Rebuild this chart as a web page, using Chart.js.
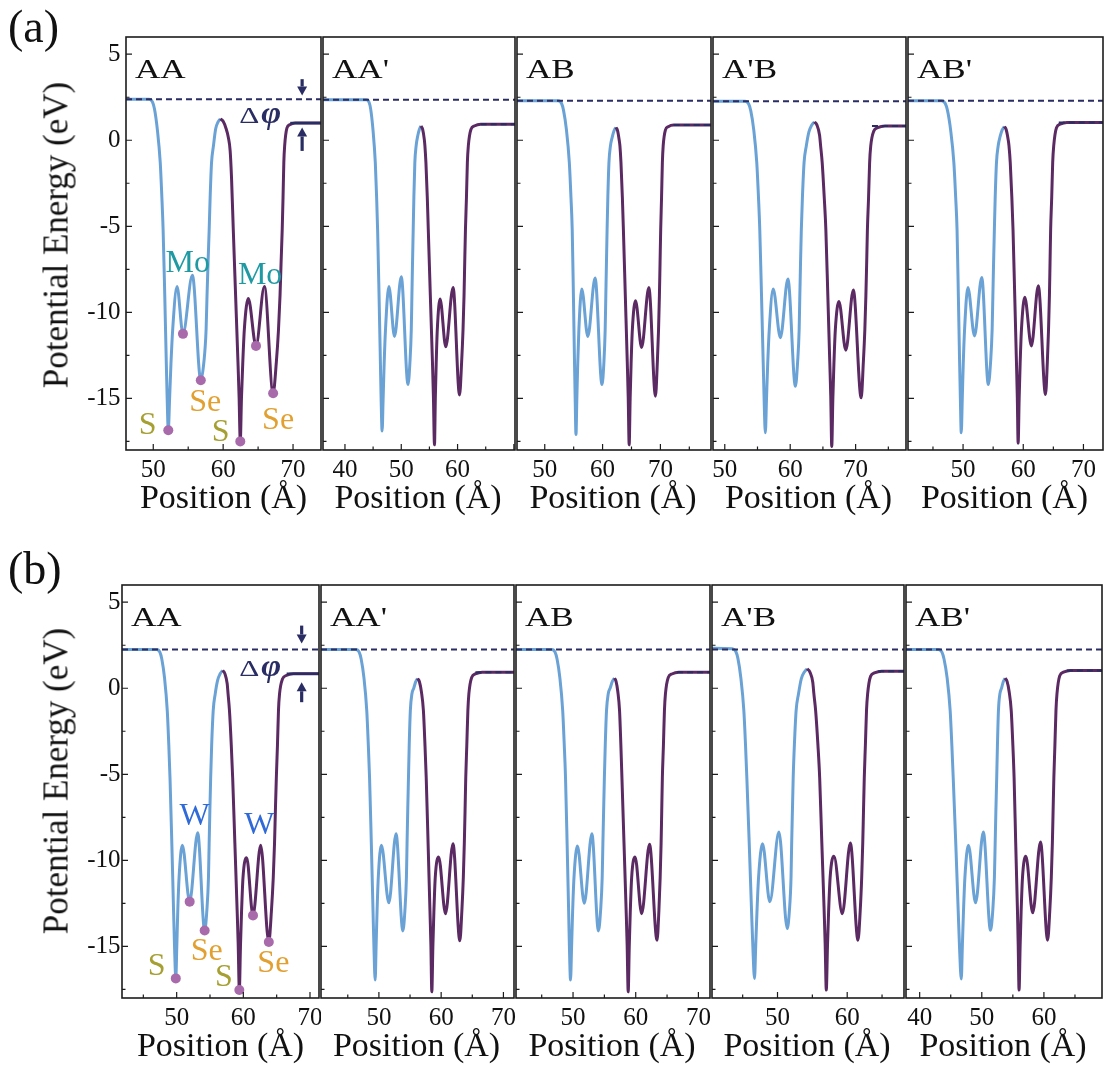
<!DOCTYPE html>
<html>
<head>
<meta charset="utf-8">
<title>Potential energy profiles</title>
<script src="https://cdn.jsdelivr.net/npm/chart.js@4.4.1/dist/chart.umd.min.js"></script>
<style>
  body { margin: 0; background: #fff; }
  #fig { position: relative; width: 1105px; height: 1068px; overflow: hidden; background: #fff;
         font-family: 'Liberation Serif', 'Times New Roman', serif; color: #111; }
  #fig canvas { position: absolute; }
  .txt { position: absolute; white-space: nowrap; line-height: 1; }
</style>
</head>
<body>
<div id="fig"></div>
<script>
// ---- data ----
var panelNames = ['AA', "AA'", 'AB', "A'B", "AB'"];
var xTickValues = [40, 50, 60, 70];
var yTickValues = [5, 0, -5, -10, -15];
var yMin = -18, yMax = 6;

// (a) MoS2 / MoSe2
var aRanges = [[46.1, 74.0], [36.1, 70.2], [45.2, 78.75], [48.2, 77.7], [40.85, 73.25]];
var aVacuumLeft = [2.38, 2.36, 2.3, 2.27, 2.3];
var aVacuumRight = [[69.6, 1.0], [64.1, 0.93], [72.3, 0.89], [72.5, 0.83], [65.9, 1.03]];

var aBlue_AA = [[46.1,2.38],[49.4,2.38],[49.88,2.23],[50.17,1.83],[50.59,0.6],[51.0,-1.3],[51.23,-3.3],[51.41,-5.2],[51.65,-9.1],[51.87,-13],[51.99,-15],[52.15,-16.85],[52.34,-15],[52.53,-13],[52.78,-11],[53.4,-8.5],[54.25,-11.25],[55.6,-7.85],[56.8,-13.95],[57.24,-12.9],[57.56,-11],[57.69,-9.05],[57.84,-7.1],[58.0,-5.2],[58.14,-3.3],[58.34,-1.3],[58.61,-0.33],[58.93,0.67],[59.26,1.05],[59.6,1.25]];
var aPurple_AA = [[59.6,1.25],[60.0,1.1],[60.4,0.7],[60.75,0.15],[61.0,-0.6],[61.2,-2.2],[61.45,-5.2],[61.78,-9],[62.12,-12.9],[62.28,-14.9],[62.45,-17.5],[62.62,-15],[62.8,-13],[63.03,-11],[63.6,-9.2],[64.7,-11.95],[65.9,-8.5],[67.15,-14.7],[67.61,-12.9],[67.92,-11],[68.14,-9],[68.29,-7.1],[68.45,-5.2],[68.57,-3.3],[68.68,-1.3],[68.8,-0.33],[69.12,0.7],[69.52,0.9],[70.3,1.0],[74.0,1.0]];

var aBlue_AAp = [[36.1,2.36],[43.8,2.36],[44.28,2.21],[44.57,1.81],[44.98,0.6],[45.39,-1.3],[45.62,-3.3],[45.8,-5.2],[46.06,-9.1],[46.3,-13],[46.42,-15],[46.6,-16.9],[46.78,-15],[46.96,-13],[47.2,-11],[47.8,-8.5],[48.8,-11.4],[50.0,-7.93],[51.2,-14.2],[51.54,-12.9],[51.78,-11],[51.89,-9.05],[52.0,-7.1],[52.12,-5.2],[52.24,-3.3],[52.41,-1.3],[52.64,-0.33],[52.92,0.25],[53.21,0.63],[53.5,0.83]];
var aPurple_AAp = [[53.5,0.83],[53.79,0.64],[54.09,0.05],[54.2,-0.33],[54.38,-1.3],[54.62,-3.3],[54.8,-5.2],[55.16,-9],[55.54,-12.9],[55.71,-14.9],[55.9,-17.7],[56.05,-15],[56.2,-13],[56.4,-11],[56.9,-9.23],[57.9,-12.0],[59.2,-8.55],[60.35,-14.8],[60.72,-12.9],[60.97,-11],[61.15,-9],[61.27,-7.1],[61.4,-5.2],[61.58,-3.3],[61.74,-1.3],[61.91,-0.33],[62.37,0.63],[62.97,0.83],[64.1,0.93],[70.2,0.93]];

var aBlue_AB = [[45.2,2.3],[52.3,2.3],[52.89,2.15],[53.24,1.75],[53.75,0.6],[54.25,-1.3],[54.53,-3.3],[54.75,-5.2],[54.96,-9.1],[55.15,-13],[55.26,-15],[55.4,-17.1],[55.55,-15],[55.7,-13],[55.9,-11],[56.4,-8.65],[57.45,-11.4],[58.7,-8.0],[59.9,-14.2],[60.23,-12.9],[60.45,-11],[60.56,-9.05],[60.67,-7.1],[60.78,-5.2],[60.91,-3.3],[61.1,-1.3],[61.36,-0.33],[61.66,0.17],[61.98,0.55],[62.3,0.75]];
var aPurple_AB = [[62.3,0.75],[62.59,0.56],[62.89,-0.03],[63.0,-0.33],[63.18,-1.3],[63.42,-3.3],[63.6,-5.2],[63.93,-9],[64.27,-12.9],[64.43,-14.9],[64.6,-17.7],[64.77,-15],[64.93,-13],[65.15,-11],[65.7,-9.33],[66.75,-12.05],[68.0,-8.55],[69.15,-14.87],[69.47,-12.9],[69.68,-11],[69.83,-9],[69.94,-7.1],[70.05,-5.2],[70.2,-3.3],[70.34,-1.3],[70.48,-0.33],[70.86,0.59],[71.35,0.79],[72.3,0.89],[78.75,0.89]];

var aBlue_ApB = [[48.2,2.27],[53.1,2.27],[53.64,2.12],[53.97,1.72],[54.43,0.6],[54.89,-1.3],[55.15,-3.3],[55.35,-5.2],[55.62,-9.1],[55.88,-13],[56.01,-15],[56.2,-17.0],[56.38,-15],[56.56,-13],[56.8,-11],[57.4,-8.65],[58.5,-11.47],[59.65,-8.07],[60.8,-14.3],[61.13,-12.9],[61.37,-11],[61.47,-9.05],[61.58,-7.1],[61.7,-5.2],[61.87,-3.3],[62.12,-1.3],[62.46,-0.33],[62.86,0.49],[63.28,0.87],[63.7,1.07]];
var aPurple_ApB = [[63.7,1.07],[64.09,0.88],[64.49,0.29],[64.65,-0.33],[64.89,-1.3],[65.2,-3.3],[65.45,-5.2],[65.75,-9],[66.05,-12.9],[66.2,-14.9],[66.35,-17.8],[66.52,-15],[66.68,-13],[66.9,-11],[67.45,-9.37],[68.5,-12.2],[69.65,-8.7],[70.85,-14.97],[71.18,-12.9],[71.41,-11],[71.57,-9],[71.69,-7.1],[71.8,-5.2],[71.98,-3.3],[72.14,-1.3],[72.31,-0.33],[72.77,0.53],[73.37,0.73],[74.5,0.83],[77.7,0.83]];

var aBlue_ABp = [[40.85,2.3],[46.4,2.3],[47.02,2.15],[47.4,1.75],[47.93,0.6],[48.47,-1.3],[48.77,-3.3],[49.0,-5.2],[49.22,-9.1],[49.43,-13],[49.55,-15],[49.7,-17.0],[49.87,-15],[50.03,-13],[50.25,-11],[50.8,-8.55],[51.9,-11.37],[53.1,-7.97],[54.2,-14.2],[54.57,-12.9],[54.83,-11],[54.95,-9.05],[55.07,-7.1],[55.2,-5.2],[55.34,-3.3],[55.55,-1.3],[55.83,-0.33],[56.16,0.22],[56.5,0.6],[56.85,0.8]];
var aPurple_ABp = [[56.85,0.8],[57.17,0.61],[57.5,0.02],[57.63,-0.33],[57.84,-1.3],[58.1,-3.3],[58.3,-5.2],[58.58,-9],[58.87,-12.9],[59.01,-14.9],[59.15,-17.6],[59.32,-15],[59.48,-13],[59.7,-11],[60.25,-9.13],[61.35,-11.95],[62.5,-8.45],[63.7,-14.77],[64.0,-12.9],[64.2,-11],[64.35,-9],[64.45,-7.1],[64.55,-5.2],[64.73,-3.3],[64.89,-1.3],[65.06,-0.33],[65.52,0.73],[66.12,0.93],[67.25,1.03],[73.25,1.03]];

var aAtomLabels = [['Mo',54.93,-7.15],['Mo',65.29,-7.85],['S',49.21,-16.57],['Se',57.43,-15.23],['S',59.64,-16.98],['Se',67.86,-16.28]];
var aAtomDots = [[52.15,-16.85],[54.25,-11.25],[56.8,-13.95],[62.45,-17.5],[64.7,-11.95],[67.15,-14.7]];
var aDeltaPhi = { arrowX: 71.3, down: [3.55, 2.6], up: [-0.62, 0.74], textX: 62.3, textY: 1.02 };

// (b) WS2 / WSe2
var bRanges = [[41.8, 71.35], [40.7, 71.7], [40.9, 71.85], [40.6, 68.15], [37.8, 69.35]];
var bVacuumLeft = [2.25, 2.25, 2.25, 2.25, 2.25];
var bVacuumRight = [[66.5, 0.84], [65.5, 0.93], [66.6, 0.93], [64.45, 0.99], [63.7, 1.03]];

var bBlue_AA = [[41.8,2.25],[47.0,2.25],[47.48,2.1],[47.77,1.7],[48.18,0.6],[48.59,-1.3],[48.82,-3.3],[49.0,-5.2],[49.28,-9.1],[49.54,-13],[49.68,-15],[49.87,-16.86],[50.02,-15],[50.16,-13],[50.36,-11],[50.85,-9.12],[51.95,-12.4],[53.15,-8.4],[54.2,-14.08],[54.53,-12.9],[54.77,-11],[54.87,-9.05],[54.98,-7.1],[55.1,-5.2],[55.25,-3.3],[55.48,-1.3],[55.78,-0.33],[56.14,0.46],[56.52,0.84],[56.9,1.04]];
var bPurple_AA = [[56.9,1.04],[57.23,0.85],[57.58,0.26],[57.71,-0.33],[57.92,-1.3],[58.19,-3.3],[58.4,-5.2],[58.73,-9],[59.07,-12.9],[59.23,-14.9],[59.4,-17.54],[59.57,-15],[59.73,-13],[59.95,-11],[60.5,-9.85],[61.45,-13.2],[62.6,-9.12],[63.82,-14.75],[64.22,-12.9],[64.49,-11],[64.68,-9],[64.81,-7.1],[64.95,-5.2],[65.12,-3.3],[65.27,-1.3],[65.43,-0.33],[65.87,0.54],[66.43,0.74],[67.5,0.84],[71.35,0.84]];

var bBlue_AAp = [[40.7,2.25],[46.3,2.25],[46.83,2.1],[47.15,1.7],[47.6,0.6],[48.05,-1.3],[48.3,-3.3],[48.5,-5.2],[48.79,-9.1],[49.06,-13],[49.2,-15],[49.4,-16.96],[49.55,-15],[49.7,-13],[49.9,-11],[50.4,-9.12],[51.6,-12.47],[52.75,-8.45],[53.85,-14.1],[54.18,-12.9],[54.42,-11],[54.52,-9.05],[54.63,-7.1],[54.75,-5.2],[54.87,-3.3],[55.05,-1.3],[55.3,-0.33],[55.59,-0.01],[55.9,0.37],[56.2,0.57]];
var bPurple_AAp = [[56.2,0.57],[56.51,0.38],[56.83,-0.21],[57.15,-1.3],[57.4,-3.3],[57.6,-5.2],[57.9,-9],[58.2,-12.9],[58.35,-14.9],[58.5,-17.64],[58.67,-15],[58.83,-13],[59.05,-11],[59.6,-9.8],[60.7,-13.1],[61.9,-9.03],[63.0,-14.68],[63.33,-12.9],[63.56,-11],[63.72,-9],[63.84,-7.1],[63.95,-5.2],[64.12,-3.3],[64.29,-1.3],[64.45,-0.33],[64.9,0.63],[65.49,0.83],[66.6,0.93],[71.7,0.93]];

var bBlue_AB = [[40.9,2.25],[46.6,2.25],[47.13,2.1],[47.45,1.7],[47.9,0.6],[48.35,-1.3],[48.6,-3.3],[48.8,-5.2],[49.06,-9.1],[49.3,-13],[49.42,-15],[49.6,-16.96],[49.77,-15],[49.93,-13],[50.15,-11],[50.7,-9.16],[51.8,-12.5],[53.0,-8.45],[54.05,-14.1],[54.4,-12.9],[54.65,-11],[54.76,-9.05],[54.88,-7.1],[55.0,-5.2],[55.14,-3.3],[55.34,-1.3],[55.61,-0.33],[55.93,0.01],[56.26,0.39],[56.6,0.59]];
var bPurple_AB = [[56.6,0.59],[56.86,0.4],[57.14,-0.19],[57.42,-1.3],[57.63,-3.3],[57.8,-5.2],[58.13,-9],[58.47,-12.9],[58.63,-14.9],[58.8,-17.64],[58.97,-15],[59.13,-13],[59.35,-11],[59.9,-9.8],[60.95,-13.1],[62.2,-9.07],[63.4,-14.64],[63.7,-12.9],[63.9,-11],[64.05,-9],[64.15,-7.1],[64.25,-5.2],[64.42,-3.3],[64.58,-1.3],[64.74,-0.33],[65.19,0.63],[65.76,0.83],[66.85,0.93],[71.85,0.93]];

var bBlue_ApB = [[40.6,2.33],[43.5,2.3],[44.0,2.15],[44.31,1.75],[44.74,0.6],[45.17,-1.3],[45.41,-3.3],[45.6,-5.2],[45.95,-9.1],[46.28,-13],[46.46,-15],[46.7,-16.86],[46.87,-15],[47.05,-13],[47.28,-11],[47.85,-9.03],[48.9,-12.41],[50.2,-8.35],[51.4,-13.96],[51.71,-12.9],[51.94,-11],[52.03,-9.05],[52.14,-7.1],[52.25,-5.2],[52.42,-3.3],[52.67,-1.3],[53.01,-0.33],[53.41,0.55],[53.83,0.93],[54.25,1.13]];
var bPurple_ApB = [[54.25,1.13],[54.65,0.94],[55.06,0.35],[55.22,-0.33],[55.47,-1.3],[55.8,-3.3],[56.05,-5.2],[56.36,-9],[56.69,-12.9],[56.84,-14.9],[57.0,-17.54],[57.17,-15],[57.33,-13],[57.55,-11],[58.1,-9.76],[59.3,-13.1],[60.45,-8.99],[61.55,-14.64],[61.87,-12.9],[62.08,-11],[62.23,-9],[62.34,-7.1],[62.45,-5.2],[62.61,-3.3],[62.77,-1.3],[62.93,-0.33],[63.35,0.69],[63.9,0.89],[64.95,0.99],[68.15,0.99]];

var bBlue_ABp = [[37.8,2.25],[43.0,2.25],[43.58,2.1],[43.92,1.7],[44.42,0.6],[44.91,-1.3],[45.18,-3.3],[45.4,-5.2],[45.82,-9.1],[46.21,-13],[46.41,-15],[46.7,-16.9],[46.87,-15],[47.05,-13],[47.28,-11],[47.85,-9.12],[49.0,-12.47],[50.25,-8.35],[51.4,-14.06],[51.77,-12.9],[52.03,-11],[52.15,-9.05],[52.27,-7.1],[52.4,-5.2],[52.52,-3.3],[52.68,-1.3],[52.91,-0.33],[53.18,0.01],[53.47,0.39],[53.75,0.59]];
var bPurple_ABp = [[53.75,0.59],[54.07,0.4],[54.4,-0.19],[54.74,-1.3],[55.0,-3.3],[55.2,-5.2],[55.46,-9],[55.74,-12.9],[55.86,-14.9],[56.0,-17.54],[56.17,-15],[56.33,-13],[56.55,-11],[57.1,-9.76],[58.2,-13.05],[59.45,-8.93],[60.6,-14.64],[60.95,-12.9],[61.19,-11],[61.36,-9],[61.48,-7.1],[61.6,-5.2],[61.77,-3.3],[61.94,-1.3],[62.1,-0.33],[62.55,0.73],[63.14,0.93],[64.25,1.03],[69.35,1.03]];

var bAtomLabels = [['W',52.7,-7.45],['W',62.4,-8.0],['S',47.0,-16.2],['Se',54.5,-15.3],['S',57.1,-16.8],['Se',64.5,-16.0]];
var bAtomDots = [[49.87,-16.86],[51.95,-12.4],[54.2,-14.08],[59.4,-17.54],[61.45,-13.2],[63.82,-14.75]];
var bDeltaPhi = { arrowX: 68.75, down: [3.64, 2.6], up: [-0.81, 0.35], textX: 59.4, textY: 0.74 };

// ---- styles / layout ----
var blueColor = '#6aa2d6';
var purpleColor = '#5b2a63';
var navy = '#2a2d63';
var dotColor = '#a86aab';
var atomColors = { Mo: '#1f9aa3', W: '#2f6ad8', S: '#a6a033', Se: '#e2a030' };
var X_AXIS_H = 40;

var rows = [
  { tag: '(a)', tagBaseline: 43, top: 37, bottom: 450, edges: [126, 321, 515, 711, 906, 1103], yPad: 5.5,
    yTitleY: 235, xTitleBaseline: 508,
    ranges: aRanges, vacL: aVacuumLeft, vacR: aVacuumRight,
    blue: [aBlue_AA, aBlue_AAp, aBlue_AB, aBlue_ApB, aBlue_ABp],
    purple: [aPurple_AA, aPurple_AAp, aPurple_AB, aPurple_ApB, aPurple_ABp],
    atoms: aAtomLabels, dots: aAtomDots, dphi: aDeltaPhi },
  { tag: '(b)', tagBaseline: 585, top: 585, bottom: 998, edges: [122, 319, 514, 710, 904, 1102], yPad: 1.5,
    yTitleY: 781, xTitleBaseline: 1056,
    ranges: bRanges, vacL: bVacuumLeft, vacR: bVacuumRight,
    blue: [bBlue_AA, bBlue_AAp, bBlue_AB, bBlue_ApB, bBlue_ABp],
    purple: [bPurple_AA, bPurple_AAp, bPurple_AB, bPurple_ApB, bPurple_ABp],
    atoms: bAtomLabels, dots: bAtomDots, dphi: bDeltaPhi }
];

Chart.defaults.font.family = "'Liberation Serif', 'Times New Roman', serif";
Chart.defaults.color = '#111';

var fig = document.getElementById('fig');

function addText(str, left, baseline, size, extra) {
  var d = document.createElement('div');
  d.className = 'txt';
  d.textContent = str;
  d.style.fontSize = size + 'px';
  d.style.left = left + 'px';
  d.style.top = (baseline - 0.8375 * size) + 'px';
  if (extra) Object.assign(d.style, extra);
  fig.appendChild(d);
  return d;
}

function toXY(pts) {
  return pts.map(function(p) { return { x: p[0], y: p[1] }; });
}

function drawStretched(ctx, txt, x, y, font, color, sx, align, baseline) {
  ctx.save();
  ctx.translate(x, y);
  ctx.scale(sx, 1);
  ctx.font = font;
  ctx.fillStyle = color;
  ctx.textAlign = align;
  ctx.textBaseline = baseline || 'alphabetic';
  ctx.fillText(txt, 0, 0);
  ctx.restore();
}

function drawArrow(ctx, x, yFrom, yTo) {
  var dir = yTo > yFrom ? 1 : -1;
  var head = 9;
  ctx.beginPath();
  ctx.moveTo(x, yFrom);
  ctx.lineTo(x, yTo - dir * head);
  ctx.lineWidth = 3.2;
  ctx.stroke();
  ctx.beginPath();
  ctx.moveTo(x, yTo);
  ctx.lineTo(x - 5, yTo - dir * head);
  ctx.lineTo(x + 5, yTo - dir * head);
  ctx.closePath();
  ctx.fill();
}

function panelPlugin(row, i) {
  return {
    id: 'panelDeco',
    afterDatasetsDraw: function(chart) {
      var ctx = chart.ctx, a = chart.chartArea;
      var xs = chart.scales.x, ys = chart.scales.y;
      ctx.save();
      // frame
      ctx.strokeStyle = '#1c1c1c';
      ctx.lineWidth = 1.6;
      ctx.strokeRect(a.left, a.top, a.right - a.left, a.bottom - a.top);
      // inward ticks
      ctx.lineWidth = 1.2;
      ctx.beginPath();
      for (var k = Math.ceil(xs.min / 5); k * 5 <= xs.max; k++) {
        var px = xs.getPixelForValue(k * 5);
        var len = k % 2 === 0 ? 6 : 3.5;
        ctx.moveTo(px, a.bottom);
        ctx.lineTo(px, a.bottom - len);
      }
      for (var j = -7; j <= 2; j++) {
        var py = ys.getPixelForValue(j * 2.5);
        var l2 = j % 2 === 0 ? 6 : 3.5;
        ctx.moveTo(a.left, py);
        ctx.lineTo(a.left + l2, py);
      }
      ctx.stroke();
      // stacking label
      drawStretched(ctx, panelNames[i], a.left + 9, a.top + 41, '27px "Liberation Serif"', '#111', 1.3, 'left');

      if (i === 0) {
        // atom labels
        row.atoms.forEach(function(t) {
          drawStretched(ctx, t[0], xs.getPixelForValue(t[1]), ys.getPixelForValue(t[2]),
            '32px "Liberation Serif"', atomColors[t[0]], 1.0, 'center', 'middle');
        });
        // work function difference
        var d = row.dphi;
        var ax = xs.getPixelForValue(d.arrowX);
        ctx.strokeStyle = navy;
        ctx.fillStyle = navy;
        drawArrow(ctx, ax, ys.getPixelForValue(d.down[0]), ys.getPixelForValue(d.down[1]));
        drawArrow(ctx, ax, ys.getPixelForValue(d.up[0]), ys.getPixelForValue(d.up[1]));
        var tx = xs.getPixelForValue(d.textX), ty = ys.getPixelForValue(d.textY);
        drawStretched(ctx, '\u0394', tx, ty, '24px "Liberation Serif"', navy, 1.3, 'left');
        drawStretched(ctx, '\u03c6', tx + 22, ty, 'italic bold 31px "Liberation Serif"', navy, 1.1, 'left');
      }
      ctx.restore();
    }
  };
}

function addPanel(row, i) {
  var L = row.edges[i], R = row.edges[i + 1];
  var first = i === 0;
  var cl = first ? 0 : L - 2;
  var w = R + 2 - cl;
  var h = row.bottom - row.top + 2 + X_AXIS_H;
  var cv = document.createElement('canvas');
  cv.width = w;
  cv.height = h;
  cv.style.left = cl + 'px';
  cv.style.top = (row.top - 2) + 'px';
  cv.style.width = w + 'px';
  cv.style.height = h + 'px';
  fig.appendChild(cv);

  var range = row.ranges[i];
  var rightLevel = row.vacR[i];
  var datasets = [
    { data: toXY(first ? row.dots : []), showLine: false, pointRadius: 5,
      pointBackgroundColor: dotColor, pointBorderWidth: 0, order: 0 },
    { data: toXY([[range[0], row.vacL[i]], [range[1], row.vacL[i]]]), borderColor: navy, borderWidth: 2,
      borderDash: [6, 4], pointRadius: 0, order: 1 },
    { data: toXY([[rightLevel[0], rightLevel[1]], [range[1], rightLevel[1]]]), borderColor: navy,
      borderWidth: first ? 2.5 : 2, borderDash: first ? [] : [6, 4], pointRadius: 0, order: 1 },
    { data: toXY(row.purple[i]), borderColor: purpleColor, borderWidth: 3, pointRadius: 0,
      cubicInterpolationMode: 'monotone', order: 2 },
    { data: toXY(row.blue[i]), borderColor: blueColor, borderWidth: 3, pointRadius: 0,
      cubicInterpolationMode: 'monotone', order: 3 }
  ];

  new Chart(cv, {
    type: 'line',
    data: { datasets: datasets },
    options: {
      responsive: false,
      animation: false,
      devicePixelRatio: 1,
      events: [],
      layout: { padding: { left: first ? 0 : 2, right: 2, top: 2, bottom: 0 }, autoPadding: false },
      plugins: { legend: { display: false }, tooltip: { enabled: false } },
      scales: {
        x: {
          type: 'linear', min: range[0], max: range[1],
          grid: { display: false, drawTicks: false }, border: { display: false },
          ticks: { font: { size: 25 }, color: '#111', padding: 5, maxRotation: 0, autoSkip: false },
          afterBuildTicks: function(s) {
            s.ticks = xTickValues.filter(function(v) { return v >= range[0] && v <= range[1] - 1; })
              .map(function(v) { return { value: v }; });
          },
          afterFit: function(s) { s.height = X_AXIS_H; s.paddingLeft = 0; s.paddingRight = 0; }
        },
        y: {
          type: 'linear', min: yMin, max: yMax, display: first,
          grid: { display: false, drawTicks: false }, border: { display: false },
          ticks: { font: { size: 25 }, color: '#111', padding: row.yPad, autoSkip: false },
          afterBuildTicks: function(s) {
            s.ticks = yTickValues.map(function(v) { return { value: v }; });
          },
          afterFit: function(s) { s.width = L - cl; s.paddingTop = 0; s.paddingBottom = 0; }
        }
      }
    },
    plugins: [panelPlugin(row, i)]
  });

  addText('Position (\u00c5)', L, row.xTitleBaseline, 34,
    { width: (R - L) + 'px', textAlign: 'center' });
}

rows.forEach(function(row) {
  for (var i = 0; i < 5; i++) addPanel(row, i);
  addText(row.tag, 8, row.tagBaseline, 46);
  var yt = addText('Potential Energy (eV)', 56, row.yTitleY, 35);
  yt.style.top = row.yTitleY + 'px';
  yt.style.transform = 'translate(-50%, -50%) rotate(-90deg)';
});
</script>
</body>
</html>
